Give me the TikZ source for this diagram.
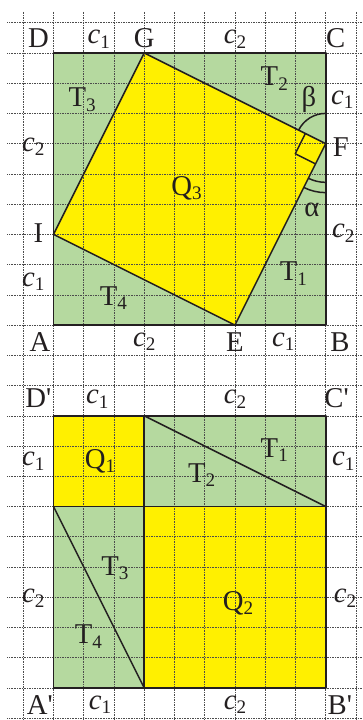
\documentclass[tikz,border=0pt]{standalone}
\usepackage{fontspec}
\setmainfont{Liberation Serif}
\usetikzlibrary{calc}
\definecolor{gr}{HTML}{B5D99F}
\definecolor{yl}{HTML}{FFF000}
\definecolor{ln}{HTML}{231F20}
\newcommand\lowix[1]{\raisebox{-4pt}{\fontsize{18}{18}\selectfont #1}}
\newcommand\ci[1]{\textit{c}\lowix{#1}}
\newcommand\pr{\textquotesingle}
\tikzset{
 gridln/.style={densely dotted, line width=0.55pt, black!70},
 edge/.style={line width=1.6pt, draw=ln, line join=round},
 thin edge/.style={line width=1.4pt, draw=ln, line join=round},
 lbl/.style={inner sep=0pt, text=ln, font=\fontsize{27}{32}\selectfont},
}
\begin{document}
\begin{tikzpicture}[x=1cm,y=1cm]
\useasboundingbox (-0.77,0.75) rectangle (11.23,-23.06);
% top square vertices
\coordinate (A) at (1,-10);
\coordinate (B) at (10,-10);
\coordinate (C) at (10,-1);
\coordinate (D) at (1,-1);
\coordinate (G) at (4,-1);
\coordinate (F) at (10,-4);
\coordinate (E) at (7,-10);
\coordinate (I) at (1,-7);
% bottom square vertices
\coordinate (A2) at (1,-22);
\coordinate (B2) at (10,-22);
\coordinate (C2) at (10,-13);
\coordinate (D2) at (1,-13);
\coordinate (M1) at (4,-13);
\coordinate (M2) at (4,-22);
\coordinate (L1) at (1,-16);
\coordinate (R1) at (10,-16);
\coordinate (K) at (4,-16);
% fills
\fill[gr] (A) rectangle (C);
\fill[yl] (G)--(F)--(E)--(I)--cycle;
\fill[yl] (D2) rectangle (K);
\fill[gr] (M1) rectangle (R1);
\fill[gr] (L1) rectangle (M2);
\fill[yl] (K) rectangle (B2);
% grid
\foreach \i in {0,...,11} \draw[gridln] (\i,0.36) -- (\i,-23.1);
\foreach \j in {0,...,23} \draw[gridln] (-0.53,-\j) -- (11.3,-\j);
% top lines
\draw[edge] (A) rectangle (C);
\draw[thin edge] (G)--(F)--(E)--(I)--cycle;
\coordinate (P1) at ($(F)!0.75cm!(G)$);
\coordinate (P3) at ($(F)!0.75cm!(E)$);
\coordinate (P2) at ($(P1)+(P3)-(F)$);
\draw[thin edge] (P1)--(P2)--(P3);
\draw[thin edge] ([shift={(90:1)}]F) arc[start angle=90, end angle=153.43, radius=1];
\draw[thin edge] ([shift={(-90:1.28)}]F) arc[start angle=-90, end angle=-116.57, radius=1.28];
\draw[thin edge] ([shift={(-90:1.62)}]F) arc[start angle=-90, end angle=-116.57, radius=1.62];
% bottom lines
\draw[edge] (A2) rectangle (C2);
\draw[thin edge] (M1)--(M2);
\draw[thin edge] (L1)--(R1);
\draw[thin edge] (M1)--(R1);
\draw[thin edge] (L1)--(M2);
% labels top
\node[lbl] (lD) at (0.5,-0.5) {D};
\node[lbl] (lc1a) at (2.5,-0.55) {\ci1};
\node[lbl] (lG) at (4.0,-0.5) {G};
\node[lbl] (lc2a) at (7.0,-0.55) {\ci2};
\node[lbl] (lC) at (10.33,-0.5) {C};
\node[lbl] (lT2) at (8.3,-1.85) {T\lowix2};
\node[lbl] (lbeta) at (9.45,-2.55) {β};
\node[lbl] (lc1b) at (10.55,-2.55) {\ci1};
\node[lbl] (lT3) at (1.95,-2.55) {T\lowix3};
\node[lbl] (lc2b) at (0.33,-4.1) {\ci2};
\node[lbl] (lF) at (10.5,-4.1) {F};
\node[lbl] (lQ3) at (5.4,-5.47) {Q\lowix3};
\node[lbl] (lalpha) at (9.54,-6.2) {α};
\node[lbl] (lI) at (0.5,-6.96) {I};
\node[lbl] (lc2c) at (10.58,-6.96) {\ci2};
\node[lbl] (lT1) at (8.93,-8.3) {T\lowix1};
\node[lbl] (lc1c) at (0.33,-8.56) {\ci1};
\node[lbl] (lT4) at (2.98,-9.1) {T\lowix4};
\node[lbl] (lA) at (0.55,-10.55) {A};
\node[lbl] (lc2d) at (4.0,-10.55) {\ci2};
\node[lbl] (lE) at (7.0,-10.55) {E};
\node[lbl] (lc1d) at (8.6,-10.55) {\ci1};
\node[lbl] (lB) at (10.47,-10.55) {B};
% labels bottom
\node[lbl] (lD2) at (0.5,-12.42) {D\pr};
\node[lbl] (lc1e) at (2.45,-12.45) {\ci1};
\node[lbl] (lc2e) at (7.0,-12.45) {\ci2};
\node[lbl] (lC2) at (10.36,-12.42) {C\pr};
\node[lbl] (lc1f) at (0.33,-14.5) {\ci1};
\node[lbl] (lQ1) at (2.54,-14.5) {Q\lowix1};
\node[lbl] (lT1b) at (8.3,-14.13) {T\lowix1};
\node[lbl] (lT2b) at (5.9,-14.96) {T\lowix2};
\node[lbl] (lc1g) at (10.58,-14.5) {\ci1};
\node[lbl] (lT3b) at (3.03,-18.04) {T\lowix3};
\node[lbl] (lc2f) at (0.33,-19.03) {\ci2};
\node[lbl] (lQ2) at (7.1,-19.2) {Q\lowix2};
\node[lbl] (lc2g) at (10.64,-19.03) {\ci2};
\node[lbl] (lT4b) at (2.15,-20.3) {T\lowix4};
\node[lbl] (lA2) at (0.55,-22.56) {A\pr};
\node[lbl] (lc1h) at (2.54,-22.56) {\ci1};
\node[lbl] (lc2h) at (7.0,-22.56) {\ci2};
\node[lbl] (lB2) at (10.47,-22.56) {B\pr};
\end{tikzpicture}
\end{document}
